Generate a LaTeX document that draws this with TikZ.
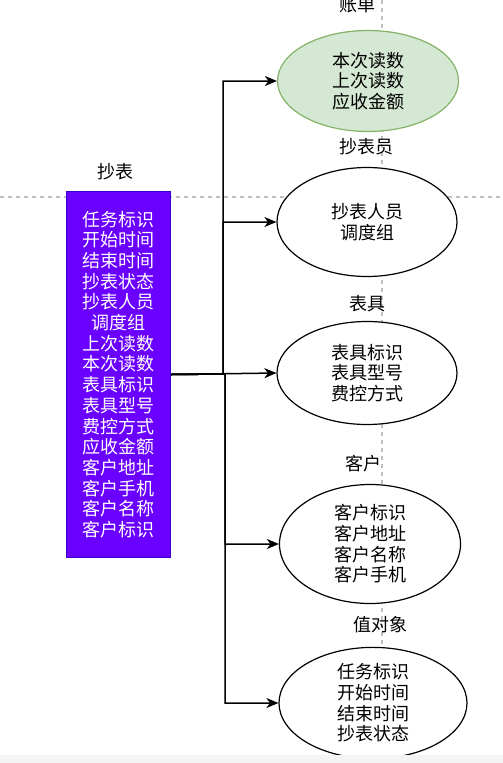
\documentclass[tikz,border=0pt]{standalone}
\usepackage{fontspec}
\setmainfont{Noto Sans CJK SC}
\usetikzlibrary{shapes.geometric,arrows.meta}
\definecolor{purp}{HTML}{6A00FF}
\definecolor{purpd}{HTML}{3700CC}
\definecolor{gfill}{HTML}{D5E8D4}
\definecolor{gdraw}{HTML}{82B366}
\definecolor{dashg}{HTML}{C0C0C0}
\begin{document}
\begin{tikzpicture}[x=1pt,y=-1pt,
  txt/.style={font=\fontsize{18}{20.7}\selectfont, align=center},
  oval/.style={ellipse, draw=black, line width=1.2pt, inner sep=0pt, txt},
  lbl/.style={txt, inner sep=0pt},
  conn/.style={draw=black, line width=1.5pt, -{Stealth[length=12pt,width=10pt,inset=3.5pt]}},
  guide/.style={draw=dashg, line width=1.1pt, dash pattern=on 4pt off 4pt}
]
\useasboundingbox (0,0) rectangle (503,763);
\clip (0,0) rectangle (503,763);
\fill[white] (0,0) rectangle (503,763);
% guides
\draw[guide] (0,197) -- (503,197);
\draw[guide] (382,0) -- (382,720);
% main entity
\node[draw=purpd, fill=purp, line width=1pt, minimum width=104pt, minimum height=366pt, inner sep=0pt,
      txt, text=white, anchor=north west] (r) at (66,191) {};
\node[txt, text=white] (rt) at (r.center) {任务标识\\开始时间\\结束时间\\抄表状态\\抄表人员\\调度组\\上次读数\\本次读数\\表具标识\\表具型号\\费控方式\\应收金额\\客户地址\\客户手机\\客户名称\\客户标识};
\node[lbl] (rl) at (115,172) {抄表};
% ellipses
\node[oval, fill=gfill, draw=gdraw, minimum width=181pt, minimum height=101pt] (e1) at (368,81) {本次读数\\上次读数\\应收金额};
\node[oval, fill=white, minimum width=180pt, minimum height=109pt] (e2) at (367,222) {抄表人员\\调度组};
\node[oval, fill=white, minimum width=180pt, minimum height=103pt] (e3) at (367,373) {表具标识\\表具型号\\费控方式};
\node[oval, fill=white, minimum width=181pt, minimum height=119pt] (e4) at (370,544) {客户标识\\客户地址\\客户名称\\客户手机};
\node[oval, fill=white, minimum width=188pt, minimum height=103pt] (e5) at (373,703) {任务标识\\开始时间\\结束时间\\抄表状态};
% labels
\node[lbl] (l1) at (357,5) {账单};
\node[lbl] (l2) at (366,147) {抄表员};
\node[lbl] (l3) at (367,304) {表具};
\node[lbl] (l4) at (363,464) {客户};
\node[lbl] (l5) at (380,625) {值对象};
% connectors
\coordinate (j) at (223,374);
\coordinate (k) at (225,374);
\draw[conn] (r.east) -- (j) |- (e1.west);
\draw[conn] (r.east) -- (j) |- (e2.west);
\draw[conn] (r.east) -- (e3.west);
\draw[conn] (r.east) -- (k) |- (e4.west);
\draw[conn] (r.east) -- (k) |- (e5.west);
% bottom strip
\fill[gray!9] (0,755) rectangle (503,763);
\end{tikzpicture}
\end{document}
